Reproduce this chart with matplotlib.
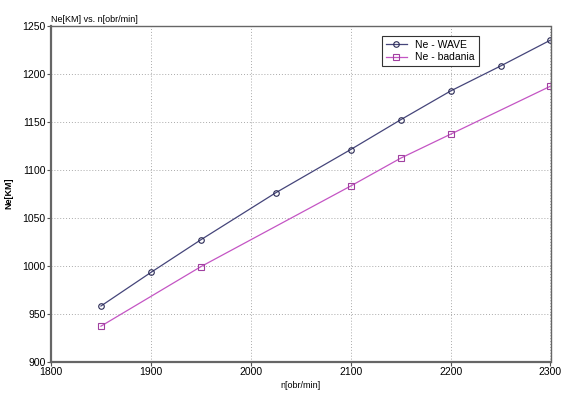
import matplotlib
matplotlib.use('Agg')
import matplotlib.pyplot as plt

plt.rcParams['font.family'] = ['Liberation Sans', 'DejaVu Sans']

# Ne-WAVE (model)
n_wave = [1850, 1900, 1950, 2025, 2100, 2150, 2200, 2250, 2300]
ne_wave = [958, 993, 1027, 1076, 1121, 1152, 1182, 1208, 1235]

# Ne-badania (measured)
n_bad = [1850, 1950, 2100, 2150, 2200, 2300]
ne_bad = [937, 999, 1083, 1112, 1137, 1187]

xticks = [1800, 1900, 2000, 2100, 2200, 2300]
yticks = [900, 950, 1000, 1050, 1100, 1150, 1200, 1250]

fig = plt.figure(figsize=(5.62, 3.93), dpi=100)
ax = fig.add_axes([51/562, 1-361.7/393, 499.5/562, 336/393])

ax.plot(n_wave, ne_wave, color='#45457a', lw=0.9, marker='o', ms=4,
        mfc='none', mec='#2a2a55', mew=0.8, label='Ne - WAVE')
ax.plot(n_bad, ne_bad, color='#c455c4', lw=0.9, marker='s', ms=4.5,
        mfc='none', mec='#a040a0', mew=0.8, label='Ne - badania')

ax.set_xlim(1800, 2300)
ax.set_ylim(900, 1250)
ax.set_xticks(xticks)
ax.set_yticks(yticks)
ax.grid(True, ls=(0, (1, 2)), color='#aaaaaa', lw=0.7)
ax.tick_params(labelsize=7.5, length=3, width=0.8, color='#555555', pad=1)
for s in ax.spines.values():
    s.set_color('#666666')
    s.set_linewidth(1.0)
ax.spines['left'].set_linewidth(1.6)
ax.spines['bottom'].set_linewidth(1.6)

ax.set_xlabel('n[obr/min]', fontsize=6.5, labelpad=3)
ax.set_ylabel('Ne[KM]', fontsize=6.5, fontweight='bold', labelpad=6)
ax.set_title('Ne[KM] vs. n[obr/min]', fontsize=6.5, loc='left', pad=3)

leg = ax.legend(loc='upper left', bbox_to_anchor=(0.652, 0.985), fontsize=7.5,
                fancybox=False, framealpha=1, edgecolor='#333333',
                handlelength=2, borderpad=0.4, labelspacing=0.2)
leg.get_frame().set_linewidth(0.8)

fig.savefig('out.png', dpi=100)
